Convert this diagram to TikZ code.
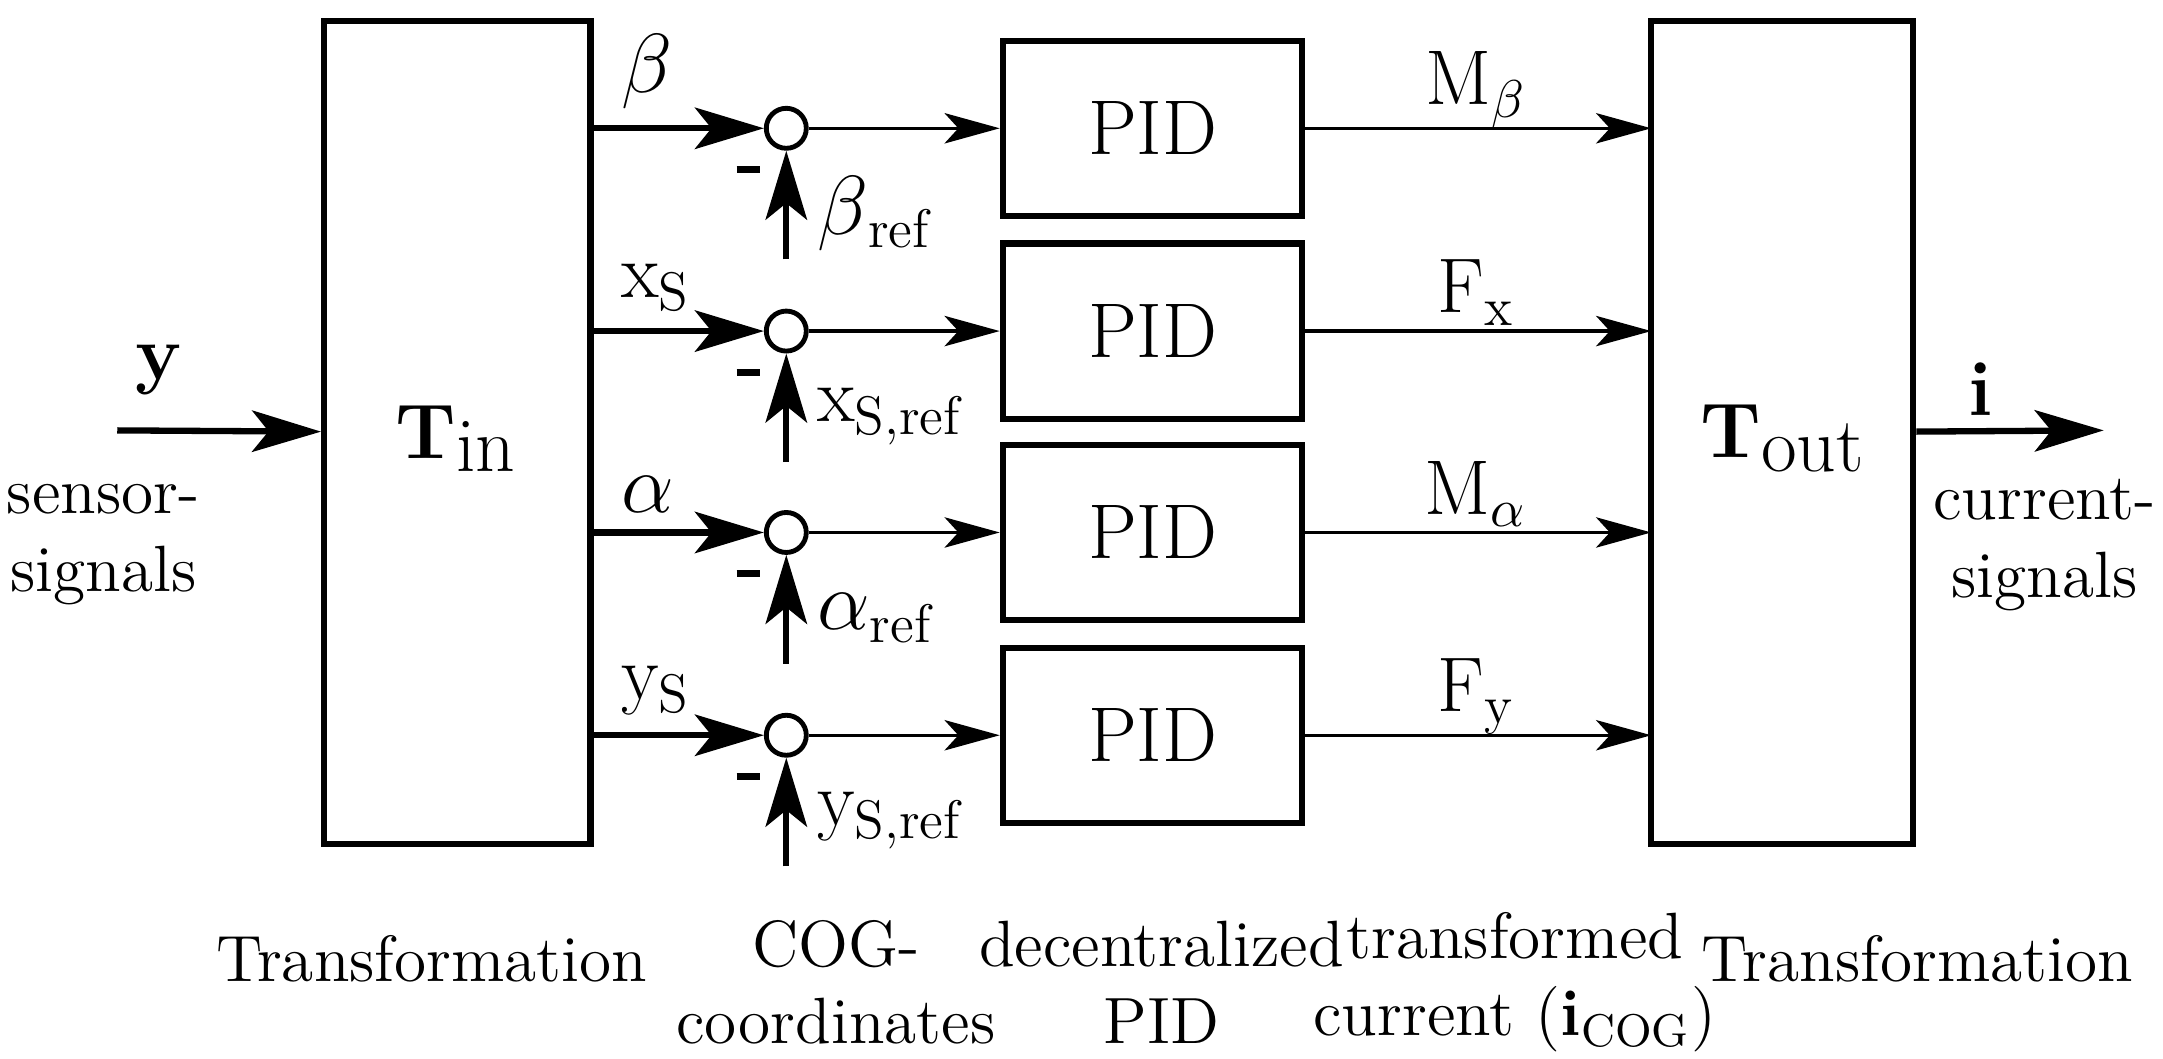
\documentclass[tikz,border=0pt]{standalone}
\usetikzlibrary{arrows.meta}
\begin{document}
\begin{tikzpicture}[x=0.1mm,y=-0.1mm,
 blk/.style={draw,line width=1.3pt,inner sep=0pt},
 sum/.style={draw,circle,line width=1pt,inner sep=0pt,minimum size=2.9mm},
 big/.style={line width=1.3pt,-{Stealth[length=5mm,width=3mm,inset=1.2mm]}},
 thin/.style={line width=0.7pt,-{Stealth[length=4mm,width=2.2mm,inset=1mm]}},
 lab/.style={font=\fontsize{16}{18}\selectfont},
 captxt/.style={font=\fontsize{13.5}{16}\selectfont,align=center}]
\useasboundingbox (0,0) rectangle (1568,767);
\node[blk,minimum width=19.3mm,minimum height=59.7mm] (tin) at (331.5,313.5) {};
\node[lab] at (330,318) {\textbf{T}\raisebox{-0.4ex}{in}};
\node[blk,minimum width=19mm,minimum height=59.7mm] (tout) at (1292,313.5) {};
\node[lab] at (1292,318) {\textbf{T}\raisebox{-0.4ex}{out}};
\foreach \n/\yy/\inl/\outl/\rl in {1/93/$\beta$/M\textsubscript{$\beta$}/$\beta$\textsubscript{ref},
 2/240/x\textsubscript{S}/F\textsubscript{x}/x\textsubscript{S,ref},
 3/386/$\alpha$/M\textsubscript{$\alpha$}/$\alpha$\textsubscript{ref},
 4/533/y\textsubscript{S}/F\textsubscript{y}/y\textsubscript{S,ref}}{
 \node[blk,minimum width=21.7mm,minimum height=12.7mm] (p\n) at (835.5,\yy) {};
 \node[lab] at (835.5,\yy) {PID};
 \node[sum] (s\n) at (570,\yy) {};
 \coordinate (a\n) at (428,\yy);
 \coordinate (r\n) at (570,\yy+95);
 \coordinate (o\n) at (1197,\yy);
 \draw[big] (a\n) -- (s\n);
 \draw[big] (r\n) -- (s\n);
 \draw[thin] (s\n) -- (p\n);
 \draw[thin] (p\n.east) -- (o\n);
 \node[lab,anchor=south west] at (438,\yy-2) {\inl};
 \node[lab] at (1070,\yy-28) {\outl};
 \node[lab,anchor=west] at (580,\yy+62) {\rl};
 \draw[line width=1.5pt] (534,\yy+30) -- (551,\yy+30);
}
\coordinate (yin) at (85,312);
\coordinate (iout) at (1525,312);
\draw[big] (yin) -- (tin);
\draw[big] (tout) -- (iout);
\node[lab] at (115,268) {\textbf{y}};
\node[lab] at (1436,282) {\textbf{i}};
\node[captxt] at (75,395) {sensor-\\signals};
\node[captxt] at (1482,395) {current-\\signals};
\node[captxt] at (313,695) {Transformation};
\node[captxt] at (606,712) {COG-\\coordinates};
\node[captxt] at (842,712) {decentralized\\PID};
\node[captxt] at (1098,712) {transformed\\current (\textbf{i}\textsubscript{COG})};
\node[captxt] at (1390,695) {Transformation};
\end{tikzpicture}
\end{document}
